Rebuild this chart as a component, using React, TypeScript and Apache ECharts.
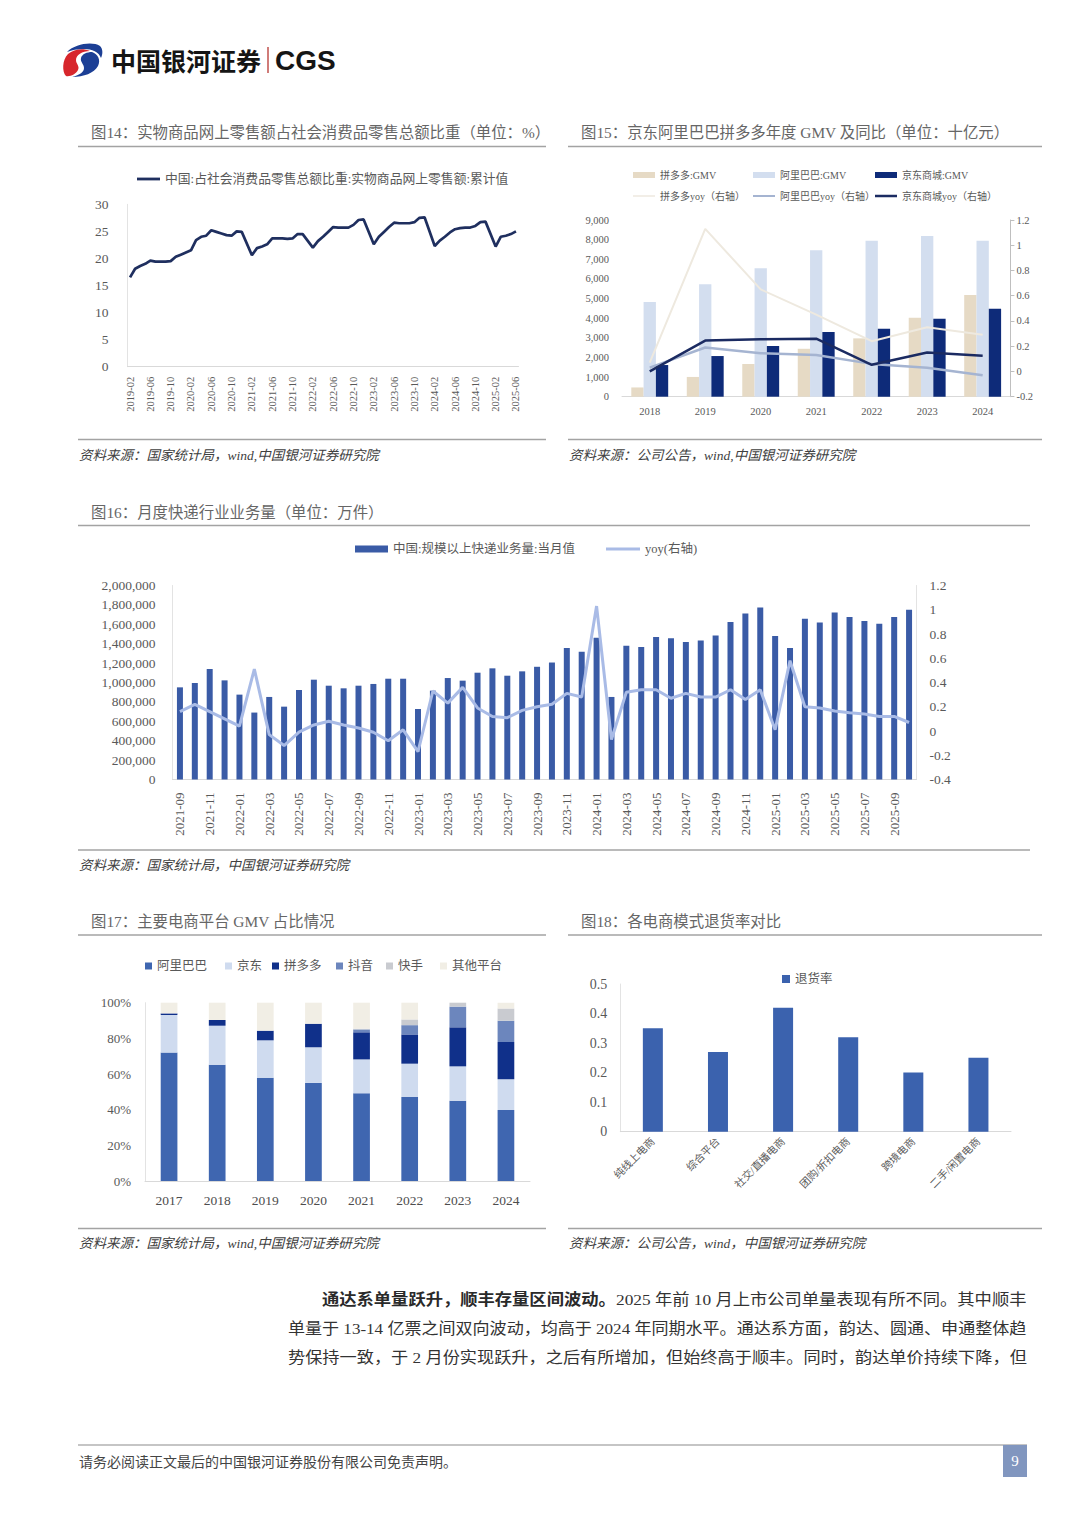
import React, { useEffect, useRef } from "react";
import * as echarts from "echarts";

const SERIF = "'Liberation Serif', 'Noto Sans CJK SC', serif";
const CJK = "'Noto Sans CJK SC', 'Noto Sans', sans-serif";
const AXIS_TEXT = "#595959";
const RULE = "#a3a3a3";

function monthLabels(y0: number, m0: number, y1: number, m1: number): string[] {
  const out: string[] = [];
  let y = y0;
  let m = m0;
  while (y < y1 || (y === y1 && m <= m1)) {
    out.push(`${y}-${String(m).padStart(2, "0")}`);
    m++;
    if (m > 12) {
      m = 1;
      y++;
    }
  }
  return out;
}

// ---------- Fig 14 ----------
const f14Months = monthLabels(2019, 2, 2025, 6);
const f14Name = "中国:占社会消费品零售总额比重:实物商品网上零售额:累计值";
const f14Share = [
  16.5, 18.1, 18.6, 19.0, 19.6, 19.4, 19.4, 19.4, 19.5, 20.3, 20.7,
  null, 21.5, 23.4, 24.0, 24.2, 25.2, 24.9, 24.6, 24.3, 24.2, 25.0, 24.9,
  null, 20.6, 21.9, 22.2, 22.6, 23.7, 23.7, 23.7, 23.6, 23.7, 24.5, 24.5,
  null, 22.0, 23.2, 24.0, 24.9, 25.8, 25.7, 25.7, 25.7, 26.2, 27.1, 27.2,
  null, 22.6, 24.0, 24.9, 25.8, 26.6, 26.5, 26.5, 26.5, 26.7, 27.5, 27.6,
  null, 22.3, 23.3, 24.0, 24.8, 25.4, 25.6, 25.7, 25.7, 26.0, 26.7, 26.8,
  null, 22.2, 24.0, 24.2, 24.5, 25.0,
];

// ---------- Fig 15 ----------
const f15Years = ["2018", "2019", "2020", "2021", "2022", "2023", "2024"];
const f15PddGmv = [471, 1006, 1667, 2441, 2971, 4024, 5178];
const f15AliGmv = [4820, 5722, 6537, 7453, 7946, 8183, 7946];
const f15JdGmv = [1613, 2071, 2581, 3294, 3463, 3973, 4482];
const f15PddYoy = [0.07, 1.13, 0.65, 0.45, 0.24, 0.35, 0.29];
const f15AliYoy = [0.03, 0.19, 0.145, 0.13, 0.06, 0.03, -0.03];
const f15JdYoy = [0.0, 0.245, 0.255, 0.26, 0.053, 0.15, 0.125];

// ---------- Fig 16 ----------
const f16Months = monthLabels(2021, 9, 2025, 10);
const f16BarName = "中国:规模以上快递业务量:当月值";
const f16LineName = "yoy(右轴)";
const f16Volume = [
  950000, 995000, 1139000, 1022000, 875000, 690000, 851000, 751000, 923000, 1029000,
  967000, 940000, 967000, 985000, 1039000, 1039000, 727000, 916000, 1046000, 1019000,
  1101000, 1146000, 1070000, 1115000, 1162000, 1206000, 1355000, 1317000, 1461000, 851000,
  1379000, 1365000, 1468000, 1455000, 1417000, 1434000, 1485000, 1623000, 1712000, 1774000,
  1479000, 1355000, 1657000, 1619000, 1722000, 1674000, 1633000, 1605000, 1674000, 1750000,
];
const f16Yoy = [
  0.16, 0.22, 0.16, 0.1, 0.04, 0.51, -0.03, -0.12, -0.01, 0.05,
  0.08, 0.05, 0.025, -0.01, -0.08, 0.01, -0.17, 0.33, 0.23, 0.36,
  0.19, 0.12, 0.11, 0.17, 0.2, 0.22, 0.31, 0.28, 1.03, -0.07,
  0.32, 0.34, 0.34, 0.27, 0.31, 0.28, 0.28, 0.34, 0.26, 0.34,
  0.01, 0.58, 0.2, 0.19, 0.165, 0.15, 0.14, 0.12, 0.12, 0.07,
];

// ---------- Fig 17 ----------
const f17Years = ["2017", "2018", "2019", "2020", "2021", "2022", "2023", "2024"];
const f17Ali = [72.0, 65.2, 57.9, 55.0, 49.2, 47.1, 45.0, 39.8];
const f17Jd = [21.1, 21.9, 21.0, 20.0, 19.0, 18.7, 19.3, 17.2];
const f17Pdd = [0.9, 3.2, 5.4, 13.2, 15.2, 16.4, 21.9, 20.9];
const f17Douyin = [0, 0, 0, 0, 1.6, 5.2, 11.6, 12.0];
const f17Kuaishou = [0, 0, 0, 0, 0.4, 3.2, 2.2, 6.9];
const f17Others = [6.0, 9.7, 15.7, 11.8, 14.6, 9.4, 0, 3.2];

// ---------- Fig 18 ----------
const f18Modes = ["纯线上电商", "综合平台", "社交/直播电商", "团购/折扣电商", "跨境电商", "二手/闲置电商"];
const f18Rate = [0.35, 0.27, 0.42, 0.32, 0.2, 0.25];

// ---------- page texts ----------
const PARA1_BOLD = "通达系单量跃升，顺丰存量区间波动。";
const PARA1_REST = "2025 年前 10 月上市公司单量表现有所不同。其中顺丰";
const PARA2 = "单量于 13-14 亿票之间双向波动，均高于 2024 年同期水平。通达系方面，韵达、圆通、申通整体趋";
const PARA3 = "势保持一致，于 2 月份实现跃升，之后有所增加，但始终高于顺丰。同时，韵达单价持续下降，但";

const RED_D =
  "M 6 12 C 12 7 21 6 28 9 C 20 9 14 13 14 18 C 14 22 18 24 16 28 C 14 32 8 35 4 34 C 0 30 0 18 6 12 Z";
const BLUE_TOP_D =
  "M 5 10 C 13 2 30 -1 38 4 C 41 7 41 12 39 16 C 37 10 30 7 22 7 C 15 7 10 8 5 10 Z";
const BLUE_LOW_D =
  "M 30 10 C 36 12 39 18 36 24 C 32 31 22 35 10 35 C 18 33 22 30 22 26 C 22 22 18 20 19 16 C 20 12 25 10 30 10 Z";

const fmtComma = (v: number) => Math.round(v).toLocaleString("en-US");
const fmtDec = (v: number) => String(Math.round(v * 10) / 10);

function measure(text: string, font: string): number {
  const c = document.createElement("canvas").getContext("2d");
  if (!c) return text.length * 15;
  c.font = font;
  return c.measureText(text).width;
}

function txt(x: number, y: number, text: string, o: any = {}) {
  return {
    type: "text",
    x,
    y,
    silent: true,
    scaleX: o.scaleX ?? 1,
    style: {
      text,
      fontSize: o.size ?? 15,
      fontFamily: o.family ?? SERIF,
      fontWeight: o.weight ?? "normal",
      fontStyle: o.style ?? "normal",
      fill: o.fill ?? "#666",
      align: o.align ?? "left",
      verticalAlign: "middle",
      rich: o.rich,
    },
  };
}

function hline(x1: number, x2: number, y: number, color = RULE, w = 1.5) {
  return { type: "line", silent: true, shape: { x1, y1: y, x2, y2: y }, style: { stroke: color, lineWidth: w } };
}

const legendText = (size: number) => ({ fontSize: size, color: AXIS_TEXT, fontFamily: SERIF });

function singleLegend(name: string, left: number, centerY: number, w: number, h: number, size: number) {
  const boxH = Math.max(h, size + 2);
  return {
    data: [name],
    left,
    top: centerY - boxH / 2,
    itemWidth: w,
    itemHeight: h,
    icon: "rect",
    padding: 0,
    itemGap: 0,
    selectedMode: false,
    textStyle: legendText(size),
  };
}

export default function App() {
  const ref = useRef<HTMLDivElement>(null);

  useEffect(() => {
    const el = ref.current;
    if (!el) return;
    echarts.graphic.registerShape("cgsRed", echarts.graphic.extendPath(RED_D, {}));
    echarts.graphic.registerShape("cgsBlueTop", echarts.graphic.extendPath(BLUE_TOP_D, {}));
    echarts.graphic.registerShape("cgsBlueLow", echarts.graphic.extendPath(BLUE_LOW_D, {}));

    const chart = echarts.init(el, null, { renderer: "svg" });

    const PS = 15.5;
    const pFont = `${PS}px 'Liberation Serif', 'Noto Sans CJK SC'`;
    const pBold = `bold ${PS}px 'Liberation Serif', 'Noto Sans CJK SC'`;
    const w1 = measure(PARA1_BOLD, pBold) + measure(PARA1_REST, pFont);
    const w2 = measure(PARA2, pFont);
    const w3 = measure(PARA3, pFont);
    const s1 = 705 / w1;
    const s2 = 739 / w2;
    const s3 = 739 / w3;

    const graphics: any[] = [
      { type: "cgsRed", x: 62, y: 42, silent: true, style: { fill: "#d7262c" } },
      { type: "cgsBlueTop", x: 62, y: 42, silent: true, style: { fill: "#1c3f95" } },
      { type: "cgsBlueLow", x: 62, y: 42, silent: true, style: { fill: "#1c3f95" } },
      txt(111, 60, "中国银河证券", { size: 25, family: CJK, weight: "bold", fill: "#151515" }),
      { type: "line", silent: true, shape: { x1: 268, y1: 47, x2: 268, y2: 73 }, style: { stroke: "#c0504d", lineWidth: 1.5 } },
      txt(275, 60, "CGS", { size: 28, family: "'Liberation Sans', Arial, sans-serif", weight: "bold", fill: "#151515" }),

      txt(91, 132, "图14：实物商品网上零售额占社会消费品零售总额比重（单位：%）", { size: 15.4 }),
      txt(581, 132, "图15：京东阿里巴巴拼多多年度 GMV 及同比（单位：十亿元）", { size: 15.4 }),
      hline(78, 546, 146.5),
      hline(568, 1042, 146.5),
      hline(78, 546, 439.5),
      hline(568, 1042, 439.5),
      txt(79, 455, "资料来源：国家统计局，wind,中国银河证券研究院", { size: 13.5, style: "italic", fill: "#404040" }),
      txt(569, 455, "资料来源：公司公告，wind,中国银河证券研究院", { size: 13.5, style: "italic", fill: "#404040" }),

      txt(91, 512, "图16：月度快递行业业务量（单位：万件）", { size: 15.4 }),
      hline(78, 1030, 525.5),
      hline(78, 1030, 850),
      txt(79, 865, "资料来源：国家统计局，中国银河证券研究院", { size: 13.5, style: "italic", fill: "#404040" }),

      txt(91, 921, "图17：主要电商平台 GMV 占比情况", { size: 15.4 }),
      txt(581, 921, "图18：各电商模式退货率对比", { size: 15.4 }),
      hline(78, 546, 935),
      hline(568, 1042, 935),
      hline(78, 546, 1228.5),
      hline(568, 1042, 1228.5),
      txt(79, 1243, "资料来源：国家统计局，wind,中国银河证券研究院", { size: 13.5, style: "italic", fill: "#404040" }),
      txt(569, 1243, "资料来源：公司公告，wind，中国银河证券研究院", { size: 13.5, style: "italic", fill: "#404040" }),

      txt(322, 1300, `{b|${PARA1_BOLD}}{n|${PARA1_REST}}`, {
        size: PS,
        fill: "#333",
        scaleX: s1,
        rich: {
          b: { fontSize: PS, fontWeight: "bold", fontFamily: SERIF, fill: "#2a2a2a" },
          n: { fontSize: PS, fontFamily: SERIF, fill: "#333" },
        },
      }),
      txt(288, 1329, PARA2, { size: PS, fill: "#333", scaleX: s2 }),
      txt(288, 1358, PARA3, { size: PS, fill: "#333", scaleX: s3 }),

      hline(78, 1027, 1445, "#8c8c8c", 1.2),
      txt(79, 1462, "请务必阅读正文最后的中国银河证券股份有限公司免责声明。", { size: 14, fill: "#444" }),
      { type: "rect", silent: true, shape: { x: 1003, y: 1445, width: 24, height: 32 }, style: { fill: "#8196bf" } },
      txt(1015, 1461, "9", { size: 15, fill: "#ffffff", align: "center" }),
    ];

    const faint = { show: true, lineStyle: { color: "#e3e3e3", width: 1 } };
    const baseLine = { show: true, lineStyle: { color: "#d9d9d9", width: 1 } };
    const noSplit = { show: false };
    const lbl = (size: number, margin: number, extra: any = {}) => ({
      fontSize: size,
      margin,
      color: AXIS_TEXT,
      fontFamily: SERIF,
      ...extra,
    });

    const option: any = {
      animation: false,
      backgroundColor: "#ffffff",
      graphic: { elements: graphics },
      legend: [
        singleLegend(f14Name, 137, 180, 23, 2.8, 12.8),
        singleLegend("拼多多:GMV", 633, 176, 22, 6, 10),
        singleLegend("阿里巴巴:GMV", 753, 176, 22, 6, 10),
        singleLegend("京东商城:GMV", 875, 176, 22, 6, 10),
        singleLegend("拼多多yoy（右轴）", 633, 197, 22, 1.5, 10),
        singleLegend("阿里巴巴yoy（右轴）", 753, 197, 22, 2, 10),
        singleLegend("京东商城yoy（右轴）", 875, 197, 22, 2.5, 10),
        singleLegend(f16BarName, 355, 550, 33, 7, 12.5),
        singleLegend(f16LineName, 606, 550, 34, 3, 12.5),
        singleLegend("阿里巴巴", 145, 967, 7, 7, 12.5),
        singleLegend("京东", 225, 967, 7, 7, 12.5),
        singleLegend("拼多多", 272, 967, 7, 7, 12.5),
        singleLegend("抖音", 336, 967, 7, 7, 12.5),
        singleLegend("快手", 386, 967, 7, 7, 12.5),
        singleLegend("其他平台", 440, 967, 7, 7, 12.5),
        singleLegend("退货率", 782, 980, 8, 8, 12.5),
      ],
      grid: [
        { left: 127.5, right: 561.5, top: 204.3, bottom: 1159.3, outerBoundsMode: "none" },
        { left: 622, right: 69.6, top: 220, bottom: 1129.3, outerBoundsMode: "none" },
        { left: 172.5, right: 163.5, top: 585.5, bottom: 746.5, outerBoundsMode: "none" },
        { left: 145, right: 550, top: 1002.7, bottom: 345, outerBoundsMode: "none" },
        { left: 620.3, right: 69, top: 984, bottom: 394.3, outerBoundsMode: "none" },
      ],
      xAxis: [
        {
          gridIndex: 0,
          type: "category",
          data: f14Months,
          axisLine: baseLine,
          axisTick: { show: false },
          axisLabel: lbl(10.5, 10, { rotate: 90, interval: 3 }),
          splitLine: noSplit,
        },
        {
          gridIndex: 1,
          type: "category",
          data: f15Years,
          axisLine: baseLine,
          axisTick: { show: false },
          axisLabel: lbl(10.5, 10, { interval: 0 }),
          splitLine: noSplit,
        },
        {
          gridIndex: 2,
          type: "category",
          data: f16Months,
          axisLine: baseLine,
          axisTick: { show: false },
          axisLabel: lbl(13, 13, { rotate: 90, interval: 1 }),
          splitLine: noSplit,
        },
        {
          gridIndex: 3,
          type: "category",
          data: f17Years,
          axisLine: baseLine,
          axisTick: { show: false },
          axisLabel: lbl(13.5, 13, { interval: 0, color: "#4d4d4d" }),
          splitLine: noSplit,
        },
        {
          gridIndex: 4,
          type: "category",
          data: f18Modes,
          axisLine: baseLine,
          axisTick: { show: false },
          axisLabel: lbl(10.5, 8, { rotate: 45, interval: 0 }),
          splitLine: noSplit,
        },
      ],
      yAxis: [
        {
          gridIndex: 0,
          type: "value",
          min: 0,
          max: 30,
          interval: 5,
          axisLine: faint,
          axisTick: { show: false },
          axisLabel: lbl(13.5, 19),
          splitLine: noSplit,
        },
        {
          gridIndex: 1,
          type: "value",
          min: 0,
          max: 9000,
          interval: 1000,
          axisLine: { show: false },
          axisTick: { show: false },
          axisLabel: lbl(10.5, 13, { formatter: fmtComma }),
          splitLine: noSplit,
        },
        {
          gridIndex: 1,
          type: "value",
          position: "right",
          min: -0.2,
          max: 1.2,
          interval: 0.2,
          axisLine: { show: true, lineStyle: { color: "#bfbfbf", width: 1 } },
          axisTick: { show: true, length: 4, lineStyle: { color: "#bfbfbf" } },
          axisLabel: lbl(10.5, 6, { formatter: fmtDec }),
          splitLine: noSplit,
        },
        {
          gridIndex: 2,
          type: "value",
          min: 0,
          max: 2000000,
          interval: 200000,
          axisLine: faint,
          axisTick: { show: false },
          axisLabel: lbl(13.5, 17, { formatter: fmtComma }),
          splitLine: noSplit,
        },
        {
          gridIndex: 2,
          type: "value",
          position: "right",
          min: -0.4,
          max: 1.2,
          interval: 0.2,
          axisLine: faint,
          axisTick: { show: false },
          axisLabel: lbl(13.5, 13, { formatter: fmtDec }),
          splitLine: noSplit,
        },
        {
          gridIndex: 3,
          type: "value",
          min: 0,
          max: 100,
          interval: 20,
          axisLine: faint,
          axisTick: { show: false },
          axisLabel: lbl(13, 14, { formatter: (v: number) => `${v}%` }),
          splitLine: noSplit,
        },
        {
          gridIndex: 4,
          type: "value",
          min: 0,
          max: 0.5,
          interval: 0.1,
          axisLine: faint,
          axisTick: { show: false },
          axisLabel: lbl(14, 13, { formatter: fmtDec }),
          splitLine: noSplit,
        },
      ],
      series: [
        {
          name: f14Name,
          type: "line",
          xAxisIndex: 0,
          yAxisIndex: 0,
          data: f14Share,
          connectNulls: true,
          symbol: "none",
          color: "#1f2f5f",
          lineStyle: { color: "#1f2f5f", width: 2.7 },
        },
        {
          name: "拼多多:GMV",
          type: "bar",
          xAxisIndex: 1,
          yAxisIndex: 1,
          data: f15PddGmv,
          barWidth: 12.3,
          barGap: "0%",
          color: "#e6dac5",
          itemStyle: { color: "#e6dac5" },
        },
        {
          name: "阿里巴巴:GMV",
          type: "bar",
          xAxisIndex: 1,
          yAxisIndex: 1,
          data: f15AliGmv,
          barWidth: 12.3,
          barGap: "0%",
          color: "#d3deef",
          itemStyle: { color: "#d3deef" },
        },
        {
          name: "京东商城:GMV",
          type: "bar",
          xAxisIndex: 1,
          yAxisIndex: 1,
          data: f15JdGmv,
          barWidth: 12.3,
          barGap: "0%",
          color: "#0e2b79",
          itemStyle: { color: "#0e2b79" },
        },
        {
          name: "拼多多yoy（右轴）",
          type: "line",
          xAxisIndex: 1,
          yAxisIndex: 2,
          data: f15PddYoy,
          symbol: "none",
          z: 4,
          color: "#eee9df",
          lineStyle: { color: "#eee9df", width: 2 },
        },
        {
          name: "阿里巴巴yoy（右轴）",
          type: "line",
          xAxisIndex: 1,
          yAxisIndex: 2,
          data: f15AliYoy,
          symbol: "none",
          z: 4,
          color: "#a5b4d1",
          lineStyle: { color: "#a5b4d1", width: 2.5 },
        },
        {
          name: "京东商城yoy（右轴）",
          type: "line",
          xAxisIndex: 1,
          yAxisIndex: 2,
          data: f15JdYoy,
          symbol: "none",
          z: 5,
          color: "#1b2b62",
          lineStyle: { color: "#1b2b62", width: 2.5 },
        },
        {
          name: f16BarName,
          type: "bar",
          xAxisIndex: 2,
          yAxisIndex: 3,
          data: f16Volume,
          barWidth: 6,
          color: "#3a5ba6",
          itemStyle: { color: "#3a5ba6" },
        },
        {
          name: f16LineName,
          type: "line",
          xAxisIndex: 2,
          yAxisIndex: 4,
          data: f16Yoy,
          symbol: "none",
          z: 4,
          color: "#a9bbe6",
          lineStyle: { color: "#a9bbe6", width: 3 },
        },
        ...[
          ["阿里巴巴", f17Ali, "#3f66b0"],
          ["京东", f17Jd, "#cfdbef"],
          ["拼多多", f17Pdd, "#10308a"],
          ["抖音", f17Douyin, "#6c86bd"],
          ["快手", f17Kuaishou, "#c9cbd0"],
          ["其他平台", f17Others, "#f1eee5"],
        ].map(([name, data, color]) => ({
          name,
          type: "bar",
          xAxisIndex: 3,
          yAxisIndex: 5,
          stack: "gmvShare",
          data,
          barWidth: 16.7,
          color,
          itemStyle: { color },
        })),
        {
          name: "退货率",
          type: "bar",
          xAxisIndex: 4,
          yAxisIndex: 6,
          data: f18Rate,
          barWidth: 20,
          color: "#3b62ae",
          itemStyle: { color: "#3b62ae" },
        },
      ],
    };

    chart.setOption(option);
    return () => chart.dispose();
  }, []);

  return (
    <div
      ref={ref}
      style={{ position: "absolute", left: 0, top: 0, width: 1080, height: 1526, background: "#ffffff" }}
    />
  );
}
